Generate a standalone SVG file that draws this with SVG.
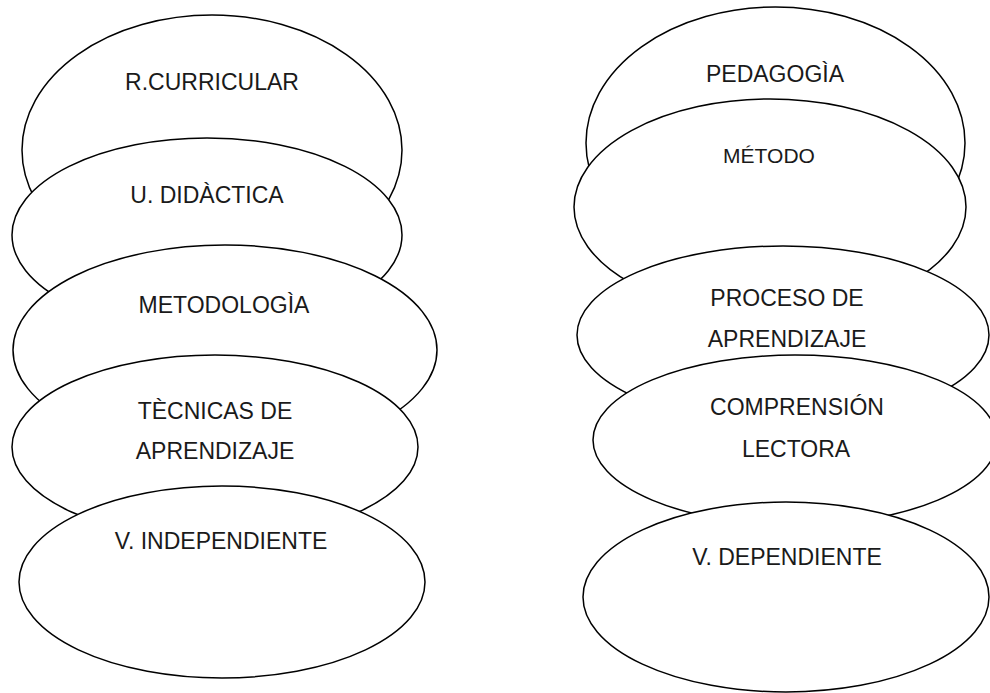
<svg xmlns="http://www.w3.org/2000/svg" width="990" height="693" viewBox="0 0 990 693">
<style>
.s{fill:#fff;stroke:#000;stroke-width:1.5}
.t{font-family:"Liberation Sans",Arial,sans-serif;font-size:23px;fill:#1a1a1a;text-anchor:middle}
</style>
<rect width="990" height="693" fill="#fff"/>
<g id="connectors"/>
<g id="n-rcurricular"><ellipse class="s" cx="212" cy="150" rx="190" ry="135"/><text class="t" x="212" y="90">R.CURRICULAR</text></g>
<g id="n-udidactica"><ellipse class="s" cx="207" cy="235" rx="195" ry="97"/><text class="t" x="207" y="203">U. DIDÀCTICA</text></g>
<g id="n-metodologia"><ellipse class="s" cx="225" cy="350" rx="212" ry="105"/><text class="t" x="224" y="313">METODOLOGÌA</text></g>
<g id="n-tecnicas"><ellipse class="s" cx="215" cy="447" rx="203" ry="92"/><text class="t" x="215" y="419">TÈCNICAS DE</text><text class="t" x="215" y="459">APRENDIZAJE</text></g>
<g id="n-vindependiente"><ellipse class="s" cx="222" cy="582" rx="203" ry="96"/><text class="t" x="221" y="549">V. INDEPENDIENTE</text></g>
<g id="n-pedagogia"><ellipse class="s" cx="775.5" cy="143" rx="189.5" ry="136"/><text class="t" x="775" y="82">PEDAGOGÌA</text></g>
<g id="n-metodo"><ellipse class="s" cx="770" cy="207" rx="196" ry="108"/><text class="t" x="769" y="163" style="font-size:21px">MÉTODO</text></g>
<g id="n-proceso"><ellipse class="s" cx="783" cy="335" rx="206" ry="89"/><text class="t" x="787" y="306">PROCESO DE</text><text class="t" x="787" y="347">APRENDIZAJE</text></g>
<g id="n-comprension"><ellipse class="s" cx="795" cy="440" rx="202" ry="85"/><text class="t" x="797" y="415">COMPRENSIÓN</text><text class="t" x="796" y="457">LECTORA</text></g>
<g id="n-vdependiente"><ellipse class="s" cx="786" cy="597" rx="203" ry="95"/><text class="t" x="787" y="565">V. DEPENDIENTE</text></g>
</svg>
